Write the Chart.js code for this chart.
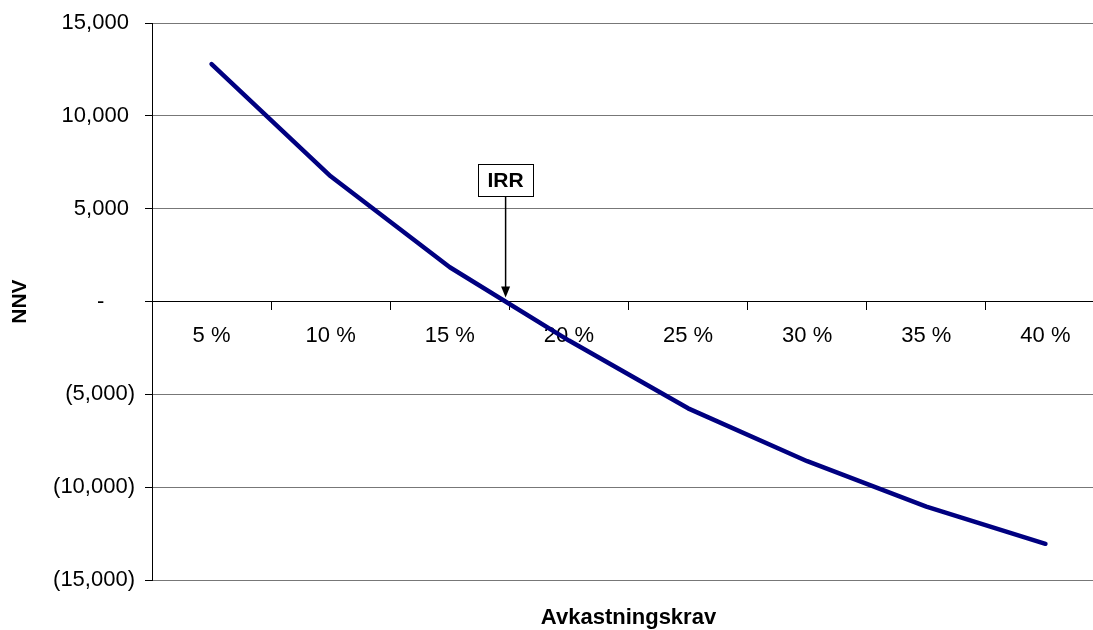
<!DOCTYPE html>
<html>
<head>
<meta charset="utf-8">
<title>NNV</title>
<script src="https://cdn.jsdelivr.net/npm/chart.js"></script>
<style>
  html, body { margin: 0; padding: 0; background: #fff; overflow: hidden; }
  #wrap { position: relative; width: 1105px; height: 630px; }
</style>
</head>
<body>
<div id="wrap"><canvas id="npvChart"></canvas></div>
<script>
// required rate of return vs. net present value
const rates = [5, 10, 15, 20, 25, 30, 35, 40];
const rateLabels = ['5 %', '10 %', '15 %', '20 %', '25 %', '30 %', '35 %', '40 %'];
const npvValues = [12800, 6750, 1850, -2100, -5750, -8600, -11050, -13050];
const yTicks = [-15000, -10000, -5000, 0, 5000, 10000, 15000];

const xTitle = 'Avkastningskrav';
const yTitle = 'NNV';
const irrText = 'IRR';
const irrBoxTop = 7400; // NNV level where the IRR label box sits

const FONT = "'Liberation Sans', Arial, sans-serif";

// IRR = where the curve crosses zero, as a fractional category index
function findIrrIndex() {
    for (let i = 0; i < npvValues.length - 1; i++) {
        const a = npvValues[i], b = npvValues[i + 1];
        if (a >= 0 && b < 0) return i + a / (a - b);
    }
    return null;
}

function fmtAccounting(v) {
    if (v === 0) return '-\u2007\u2007 ';
    const s = Math.abs(v).toLocaleString('en-US');
    return v < 0 ? '(' + s + ')' : s + ' ';
}

// axis titles and the IRR callout
const extrasPlugin = {
    id: 'extras',
    afterDraw(chart) {
        const ctx = chart.ctx;
        const area = chart.chartArea;
        const xs = chart.scales.x, ys = chart.scales.y;
        ctx.save();
        ctx.fillStyle = '#000';
        ctx.font = 'bold 22px ' + FONT;
        ctx.textAlign = 'center';
        ctx.textBaseline = 'middle';
        ctx.fillText(xTitle, (area.left + area.right) / 2, 618);

        ctx.save();
        ctx.translate(20, ys.getPixelForValue(0));
        ctx.rotate(-Math.PI / 2);
        ctx.font = 'bold 21px ' + FONT;
        ctx.fillText(yTitle, 0, 0);
        ctx.restore();

        const irrIdx = findIrrIndex();
        if (irrIdx !== null) {
            const px = xs.getPixelForValue(irrIdx);
            const top = ys.getPixelForValue(irrBoxTop);
            const zero = ys.getPixelForValue(0);
            const bw = 55, bh = 32;
            const tip = zero - 4;

            ctx.strokeStyle = '#000';
            ctx.lineWidth = 1.5;
            ctx.beginPath();
            ctx.moveTo(px, top + bh);
            ctx.lineTo(px, tip - 8);
            ctx.stroke();
            ctx.beginPath();
            ctx.moveTo(px - 4.5, tip - 11);
            ctx.lineTo(px + 4.5, tip - 11);
            ctx.lineTo(px, tip);
            ctx.closePath();
            ctx.fill();

            ctx.fillStyle = '#fff';
            ctx.fillRect(px - bw / 2, top, bw, bh);
            ctx.lineWidth = 1;
            ctx.strokeRect(Math.round(px - bw / 2) + 0.5, Math.round(top) + 0.5, bw, bh);
            ctx.fillStyle = '#000';
            ctx.font = 'bold 21px ' + FONT;
            ctx.fillText(irrText, px, top + bh / 2 + 1);
        }
        ctx.restore();
    }
};

new Chart(document.getElementById('npvChart'), {
    type: 'line',
    data: {
        labels: rateLabels,
        datasets: [{
            label: yTitle,
            data: npvValues,
            borderColor: '#000080',
            borderWidth: 4.5,
            borderCapStyle: 'round',
            borderJoinStyle: 'round',
            pointRadius: 0,
            tension: 0,
            fill: false
        }]
    },
    options: {
        responsive: true,
        maintainAspectRatio: false,
        animation: false,
        layout: { padding: { top: 23, bottom: 50, left: 0, right: 0 } },
        plugins: {
            legend: { display: false },
            tooltip: { enabled: false }
        },
        scales: {
            x: {
                position: { y: 0 },
                offset: true,
                grid: {
                    offset: true,
                    drawOnChartArea: false,
                    drawTicks: true,
                    tickLength: 8,
                    tickColor: '#000'
                },
                border: { color: '#000', width: 1 },
                ticks: {
                    color: '#000',
                    font: { family: FONT, size: 22 },
                    padding: 13,
                    maxRotation: 0,
                    autoSkip: false
                }
            },
            y: {
                min: yTicks[0],
                max: yTicks[yTicks.length - 1],
                afterFit(scale) { scale.width = 152; },
                afterBuildTicks(scale) { scale.ticks = yTicks.map(v => ({ value: v })); },
                grid: {
                    color: '#777',
                    lineWidth: 1,
                    tickLength: 7,
                    tickColor: '#000'
                },
                border: { color: '#000', width: 1 },
                ticks: {
                    color: '#000',
                    font: { family: FONT, size: 22 },
                    padding: 10,
                    callback: v => fmtAccounting(v)
                }
            }
        }
    },
    plugins: [extrasPlugin]
});
</script>
</body>
</html>
